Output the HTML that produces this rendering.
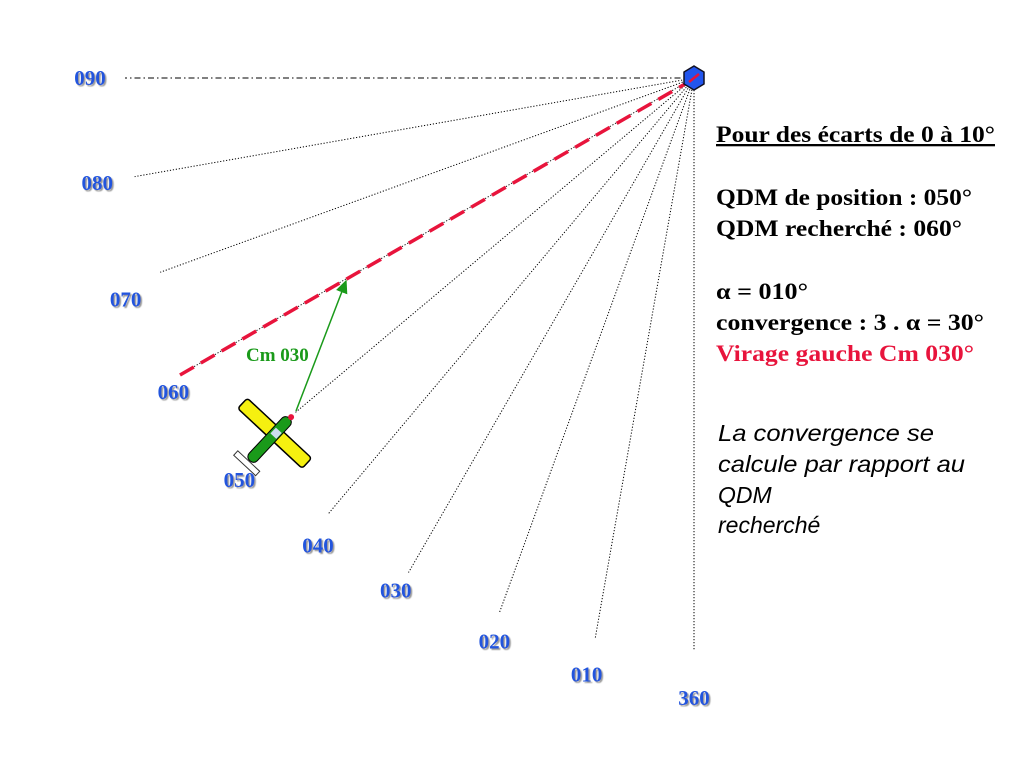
<!DOCTYPE html>
<html><head><meta charset="utf-8"><style>
html,body{margin:0;padding:0;background:#fff;}
svg{display:block;}
.lbl{font-family:"Liberation Serif",serif;font-weight:bold;font-size:21px;fill:#2255dd;}
.t{font-family:"Liberation Serif",serif;font-weight:bold;font-size:23px;fill:#000;}
.i{font-family:"Liberation Sans",sans-serif;font-style:italic;font-size:23px;fill:#000;}
</style></head><body>
<svg id="c" width="1024" height="768">
<defs>
<filter id="sh" x="-20%" y="-20%" width="140%" height="140%"><feDropShadow dx="1.5" dy="1.5" stdDeviation="0.6" flood-color="#999"/></filter>
<marker id="ar" markerWidth="10" markerHeight="10" refX="8" refY="5" orient="auto"><path d="M0,1 L9,5 L0,9 z" fill="#1a9a1a"/></marker>
</defs>
<g id="radials"></g>
<g id="labels"></g>
<line x1="180" y1="375" x2="692" y2="80" stroke="#e8143c" stroke-width="3.5" stroke-dasharray="16,8"/>
<line x1="296" y1="411" x2="346" y2="281" stroke="#1a9a1a" stroke-width="1.5" marker-end="url(#ar)"/>
<text x="246" y="361" font-family="Liberation Serif" font-weight="bold" font-size="19" fill="#1a9a1a">Cm 030</text>
<g transform="translate(274,434) rotate(-47)">
<rect x="-6" y="-44" width="14" height="88" rx="3" fill="#f5f010" stroke="#000" stroke-width="1.5"/>
<rect x="-36" y="-5" width="58" height="11" rx="5" fill="#1a9a1a" stroke="#000" stroke-width="1"/>
<rect x="-43" y="-15" width="6" height="30" fill="#fff" stroke="#333" stroke-width="1"/>
<rect x="-2" y="-3" width="8" height="8" fill="#cde"/>
<circle cx="24" cy="1" r="3" fill="#e8143c"/>
</g>
<polygon points="694,66 704,72 704,84 694,90 684,84 684,72" fill="#2255ee" stroke="#112" stroke-width="1.5"/>
<line x1="689" y1="82" x2="699" y2="74" stroke="#e8143c" stroke-width="2.5"/>
<g>
<text class="t" x="716" y="142" textLength="279" lengthAdjust="spacingAndGlyphs" text-decoration="underline">Pour des écarts de 0 à 10°</text>
<text class="t" x="716" y="205" textLength="256" lengthAdjust="spacingAndGlyphs">QDM de position : 050°</text>
<text class="t" x="716" y="236" textLength="246" lengthAdjust="spacingAndGlyphs">QDM recherché : 060°</text>
<text class="t" x="716" y="299" textLength="92" lengthAdjust="spacingAndGlyphs">α = 010°</text>
<text class="t" x="716" y="330" textLength="268" lengthAdjust="spacingAndGlyphs">convergence : 3 . α = 30°</text>
<text class="t" x="716" y="361" textLength="258" lengthAdjust="spacingAndGlyphs" style="fill:#e8143c">Virage gauche Cm 030°</text>
<text class="i" x="718" y="441" textLength="216" lengthAdjust="spacingAndGlyphs">La convergence se</text>
<text class="i" x="718" y="472" textLength="247" lengthAdjust="spacingAndGlyphs">calcule par rapport au</text>
<text class="i" x="718" y="503">QDM</text>
<text class="i" x="718" y="533">recherché</text>
</g>
</svg>
<script>
const headings=[90,80,70,60,50,40,30,20,10,0];
const labels=["090","080","070","060","050","040","030","020","010","360"];
const lengths=[569,568,568,594,521,569,571,569,570,572];
const labelRadius=[604,606,610,608,607,600,593,598,606,620];
const labelAngleShift=[0,0,-1.3,-1.1,-1.5,-1.2,0.2,-0.5,0.2,0];
const cx=694,cy=78,NS="http://www.w3.org/2000/svg";
const rg=document.getElementById('radials'),lg=document.getElementById('labels');
function ang(h){return (90+h)*Math.PI/180;}
headings.forEach((h,i)=>{
 const a=ang(h),L=lengths[i];
 const ln=document.createElementNS(NS,'line');
 ln.setAttribute('x1',cx);ln.setAttribute('y1',cy);
 ln.setAttribute('x2',cx+L*Math.cos(a));ln.setAttribute('y2',cy+L*Math.sin(a));
 ln.setAttribute('stroke','#000');ln.setAttribute('stroke-width','1');
 ln.setAttribute('stroke-dasharray',h===90?'6,3,1.5,3':'1.2,1.8');
 
 
 rg.appendChild(ln);
 const la=ang(h+labelAngleShift[i]),R=labelRadius[i];
 const t=document.createElementNS(NS,'text');
 t.setAttribute('x',cx+R*Math.cos(la));t.setAttribute('y',cy+R*Math.sin(la)+7);
 t.setAttribute('text-anchor','middle');t.setAttribute('class','lbl');t.setAttribute('filter','url(#sh)');
 t.textContent=labels[i];
 
 
 lg.appendChild(t);
});
</script>
</body></html>
